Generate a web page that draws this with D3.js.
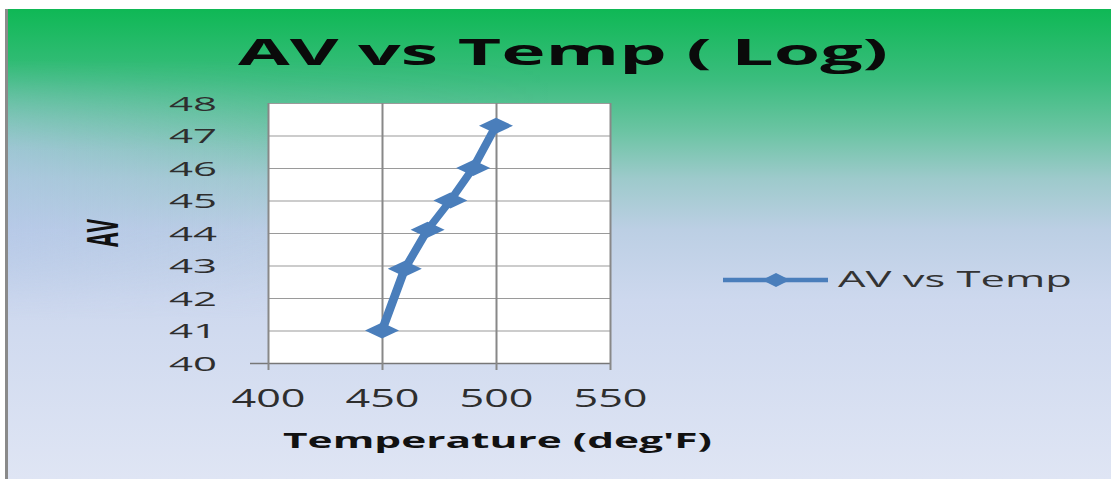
<!DOCTYPE html>
<html><head><meta charset="utf-8">
<script src="https://cdn.jsdelivr.net/npm/d3@7"></script>
<style>html,body{margin:0;padding:0;background:#fff;}svg{display:block;}</style>
</head><body>
<svg id="c" width="1111" height="479"></svg>
<script>
const temps = [450, 460, 470, 480, 490, 500];
const av = [41, 42.9, 44.1, 45, 46, 47.3];
const xTicks = [400, 450, 500, 550];
const yTicks = [40, 41, 42, 43, 44, 45, 46, 47, 48];
const title = "AV vs Temp ( Log)";
const xTitle = "Temperature (deg'F)";
const yTitle = "AV";
const seriesName = "AV vs Temp";

const svg = d3.select("#c");
const W = 1111, H = 479;
const SX = 2; // horizontal stretch of the original picture
const blue = "#4a7ebb";
const font = "'Open Sans', 'DejaVu Sans', sans-serif";

const defs = svg.append("defs");
const g1 = defs.append("linearGradient").attr("id", "bg").attr("x1", 0).attr("y1", 0).attr("x2", 0).attr("y2", 1);
[[0, "#0fb855"], [0.15, "#3bbd7e"], [0.26, "#6bc4a3"], [0.36, "#9dcacb"], [0.47, "#bccfe4"], [0.62, "#cdd8ee"], [1, "#dfe5f4"]]
  .forEach(([o, c]) => g1.append("stop").attr("offset", o).attr("stop-color", c));
const g2 = defs.append("linearGradient").attr("id", "bgh").attr("x1", 0).attr("y1", 0).attr("x2", 1).attr("y2", 0);
[[0, "#b4c6ea", 0.6], [0.25, "#b4c6ea", 0.15], [0.5, "#b4c6ea", 0]]
  .forEach(([o, c, a]) => g2.append("stop").attr("offset", o).attr("stop-color", c).attr("stop-opacity", a));
const g3 = defs.append("linearGradient").attr("id", "mv").attr("x1", 0).attr("y1", 0).attr("x2", 0).attr("y2", 1);
[[0, "#000"], [0.35, "#fff"], [0.65, "#fff"], [1, "#000"]]
  .forEach(([o, c]) => g3.append("stop").attr("offset", o).attr("stop-color", c));
defs.append("mask").attr("id", "mk").attr("maskUnits", "userSpaceOnUse")
  .append("rect").attr("x", 0).attr("y", 60).attr("width", W).attr("height", 260).attr("fill", "url(#mv)");

svg.append("rect").attr("x", 6).attr("y", 9).attr("width", W - 6).attr("height", H - 9).attr("fill", "url(#bg)");
svg.append("rect").attr("x", 6).attr("y", 60).attr("width", W - 6).attr("height", 260).attr("fill", "url(#bgh)").attr("mask", "url(#mk)");
svg.append("line").attr("x1", 6.5).attr("x2", 6.5).attr("y1", 9).attr("y2", H).attr("stroke", "#8a8a8a").attr("stroke-width", 3);

// title
svg.append("text").attr("x", 238).attr("y", 65).attr("textLength", 650).attr("lengthAdjust", "spacingAndGlyphs")
  .attr("font-family", font).attr("font-weight", 700).attr("font-size", 35).attr("fill", "#0a0a0a").text(title);

const L = 268, R = 610, T = 103, B = 363;
const x = d3.scaleLinear().domain([400, 550]).range([L, R]);
const y = d3.scaleLinear().domain([40, 48]).range([B, T]);

svg.append("rect").attr("x", L).attr("y", T).attr("width", R - L).attr("height", B - T).attr("fill", "#fff");

// y grid + labels
const ya = svg.append("g").attr("transform", `translate(${L},0)`)
  .call(d3.axisLeft(y).tickValues(yTicks).tickSize(-(R - L)).tickPadding(51).tickFormat(d3.format("d")));
ya.select(".domain").remove();
ya.selectAll(".tick line").attr("stroke", "#9a9a9a").attr("stroke-width", 1.2);
ya.selectAll(".tick").filter(d => d === 40).select("line").attr("x1", -18).attr("stroke", "#777").attr("stroke-width", 1.5);
ya.selectAll(".tick text").attr("font-family", font).attr("font-size", 19.5).attr("fill", "#2e2e2e")
  .attr("textLength", 48).attr("lengthAdjust", "spacingAndGlyphs").attr("dy", "0.36em");

// x grid
const xg = svg.append("g").attr("transform", `translate(0,${B})`)
  .call(d3.axisBottom(x).tickValues(xTicks).tickSize(-(B - T)).tickFormat(""));
xg.select(".domain").remove();
xg.selectAll(".tick line").attr("stroke", "#888").attr("stroke-width", 2);
// x ticks + labels
const xa = svg.append("g").attr("transform", `translate(0,${B})`)
  .call(d3.axisBottom(x).tickValues(xTicks).tickSize(7).tickFormat(d3.format("d")));
xa.select(".domain").remove();
xa.selectAll(".tick line").attr("stroke", "#888").attr("stroke-width", 2);
xa.selectAll(".tick text").attr("y", 44).attr("dy", 0).attr("font-family", font).attr("font-size", 25).attr("fill", "#2e2e2e")
  .attr("textLength", 74).attr("lengthAdjust", "spacingAndGlyphs");

// axis titles
svg.append("text").attr("x", 283).attr("y", 448).attr("textLength", 429).attr("lengthAdjust", "spacingAndGlyphs")
  .attr("font-family", font).attr("font-weight", 700).attr("font-size", 21).attr("fill", "#111").text(xTitle);
svg.append("text").attr("transform", `translate(118,233) scale(${SX},1) rotate(-90)`)
  .attr("text-anchor", "middle").attr("textLength", 28).attr("lengthAdjust", "spacingAndGlyphs")
  .attr("font-family", font).attr("font-weight", 700).attr("font-size", 21.5).attr("fill", "#111").text(yTitle);

// series (drawn in a horizontally stretched frame)
const data = temps.map((t, i) => ({ t, v: av[i] }));
const xs = d3.scaleLinear().domain([400, 550]).range([L / SX, R / SX]);
const sg = svg.append("g").attr("transform", `scale(${SX},1)`);
sg.append("path").datum(data)
  .attr("d", d3.line().x(d => xs(d.t)).y(d => y(d.v)))
  .attr("fill", "none").attr("stroke", blue).attr("stroke-width", 4.5).attr("stroke-linejoin", "round");
const diamond = (hw, hh) => `M${-hw},0L0,${-hh}L${hw},0L0,${hh}Z`;
sg.selectAll("path.m").data(data).join("path").attr("class", "m")
  .attr("transform", d => `translate(${xs(d.t)},${y(d.v)})`)
  .attr("d", diamond(8.5, 8)).attr("fill", blue);

// legend
const lg = svg.append("g").attr("transform", `scale(${SX},1)`);
lg.append("line").attr("x1", 723 / SX).attr("x2", 828 / SX).attr("y1", 280).attr("y2", 280)
  .attr("stroke", blue).attr("stroke-width", 4.5);
lg.append("path").attr("transform", `translate(${776 / SX},280)`).attr("d", diamond(7, 7)).attr("fill", blue);
svg.append("text").attr("x", 838).attr("y", 287).attr("textLength", 234).attr("lengthAdjust", "spacingAndGlyphs")
  .attr("font-family", font).attr("font-size", 21).attr("fill", "#333").text(seriesName);
</script>
</body></html>
